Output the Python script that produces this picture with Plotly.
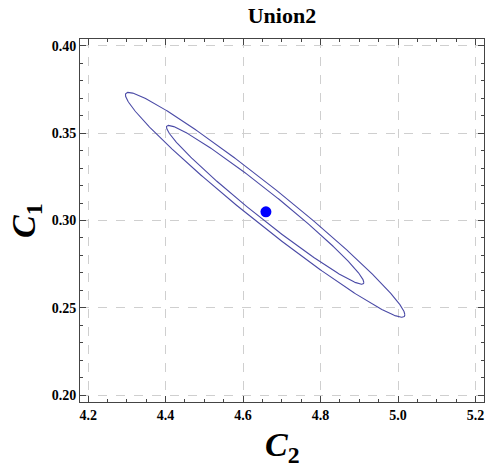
import numpy as np
import plotly.graph_objects as go

# Best-fit point (C2, C1)
best_c2 = [4.659]
best_c1 = [0.305]

# Confidence-region parameters
contour_center_c2 = 4.657
contour_center_c1 = 0.309
sigma_c2 = 0.168
sigma_c1 = 0.0300
rho = -0.978
delta_chi2_levels = [2.30, 4.61]

x_tick_vals = [4.2, 4.4, 4.6, 4.8, 5.0, 5.2]
x_tick_text = ["4.2", "4.4", "4.6", "4.8", "5.0", "5.2"]
y_tick_vals = [0.20, 0.25, 0.30, 0.35, 0.40]
y_tick_text = ["0.20", "0.25", "0.30", "0.35", "0.40"]

cov = np.array([[sigma_c2**2, rho*sigma_c2*sigma_c1],
                [rho*sigma_c2*sigma_c1, sigma_c1**2]])
L = np.linalg.cholesky(cov)
t = np.linspace(0, 2*np.pi, 400)
circle = np.vstack([np.cos(t), np.sin(t)])

fig = go.Figure()
for k in delta_chi2_levels:
    pts = np.sqrt(k) * (L @ circle)
    fig.add_trace(go.Scatter(x=contour_center_c2 + pts[0], y=contour_center_c1 + pts[1],
                             mode="lines", line=dict(color="#4a4aa6", width=1.1),
                             hoverinfo="skip", showlegend=False))
fig.add_trace(go.Scatter(x=best_c2, y=best_c1, mode="markers",
                         marker=dict(color="#0000ff", size=11), showlegend=False))

tickfont = dict(family="Liberation Serif", size=14, color="black")
axis_common = dict(showline=True, linecolor="#444", linewidth=1, mirror="allticks",
                   ticks="inside", ticklen=6, tickcolor="#444", tickwidth=1,
                   showgrid=True, gridcolor="#cfcfcf", griddash="dash", gridwidth=1,
                   zeroline=False, tickfont=tickfont, automargin=False)
fig.update_xaxes(range=[4.179, 5.222], tickvals=x_tick_vals,
                 ticktext=["<b>%s</b>" % s for s in x_tick_text],
                 minor=dict(dtick=0.05, tick0=4.2, ticks="inside", ticklen=3, tickcolor="#444", showgrid=False),
                 **axis_common)
fig.update_yaxes(range=[0.196, 0.404], tickvals=y_tick_vals,
                 ticktext=["<b>%s</b>" % s for s in y_tick_text],
                 minor=dict(dtick=0.01, tick0=0.2, ticks="inside", ticklen=3, tickcolor="#444", showgrid=False),
                 **axis_common)
title_font = dict(family="Liberation Serif", size=34, color="black")
fig.add_annotation(text="<b><i>C</i><sub>2</sub></b>", xref="paper", yref="paper",
                   x=0.5, y=-0.125, xanchor="center", yanchor="middle", showarrow=False, font=title_font)
fig.add_annotation(text="<b><i>C</i><sub>1</sub></b>", xref="paper", yref="paper",
                   x=-0.135, y=0.5, xanchor="center", yanchor="middle", textangle=-90,
                   showarrow=False, font=title_font)
fig.update_layout(width=487, height=467, margin=dict(l=80, r=3, t=39, b=65),
                  paper_bgcolor="white", plot_bgcolor="white",
                  title=dict(text="<b>Union2</b>", x=0.579, xanchor="center", y=0.968, yanchor="middle",
                             font=dict(family="Liberation Serif", size=22, color="black")))
fig.write_html("out.html", config={"displayModeBar": False})

# remove the default page margin so the figure sits at the window's corner
with open("out.html", encoding="utf-8") as f:
    html = f.read()
html = html.replace("<head>", "<head><style>html,body{margin:0;padding:0;overflow:hidden;}</style>", 1)
with open("out.html", "w", encoding="utf-8") as f:
    f.write(html)
